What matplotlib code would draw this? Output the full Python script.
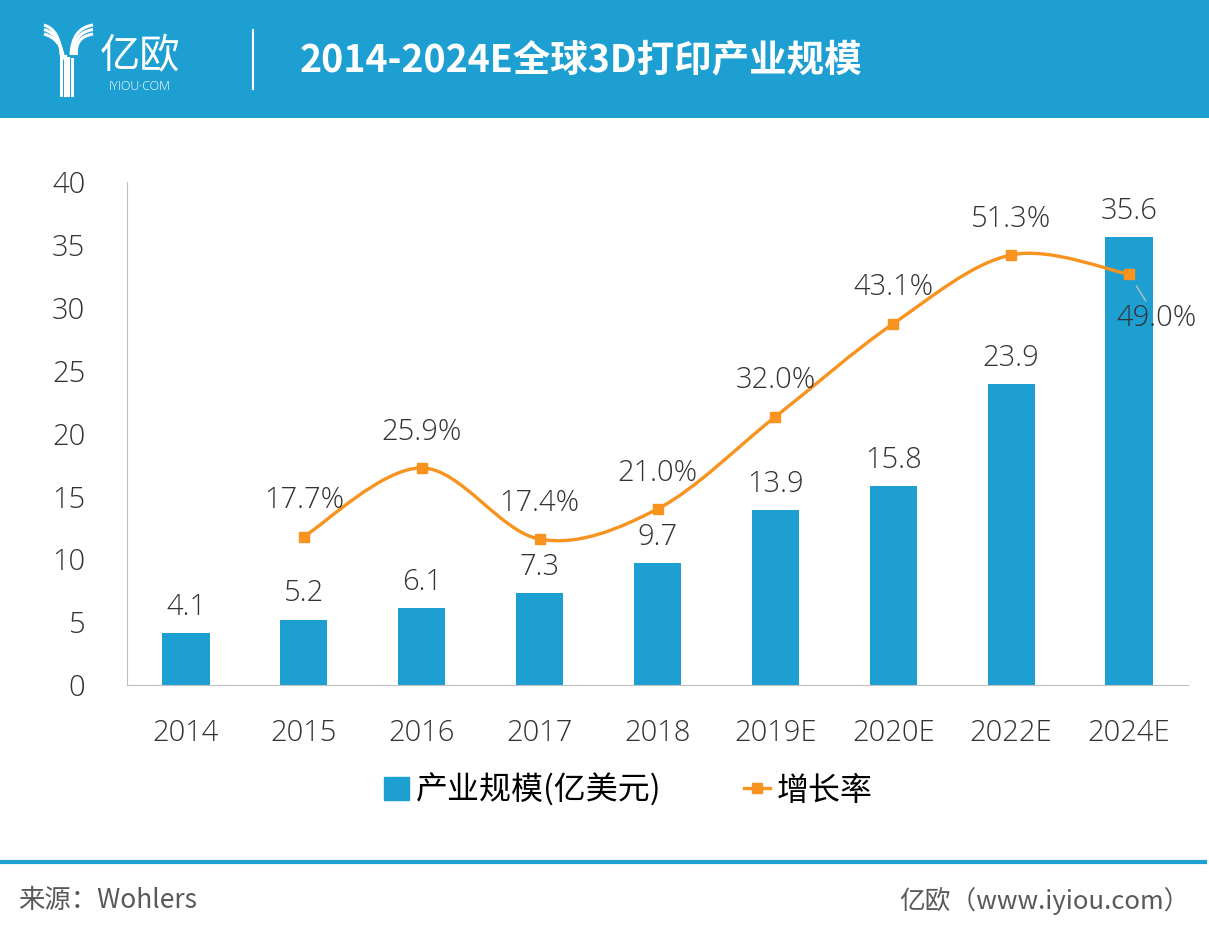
import matplotlib.pyplot as plt
from matplotlib.path import Path
from matplotlib.patches import PathPatch, Rectangle
from matplotlib.lines import Line2D

plt.rcParams['font.family'] = ['Open Sans', 'Noto Sans CJK SC', 'DejaVu Sans']
plt.rcParams['font.weight'] = 'light'

# 数据
years = ['2014', '2015', '2016', '2017', '2018', '2019E', '2020E', '2022E', '2024E']
scale = [4.1, 5.2, 6.1, 7.3, 9.7, 13.9, 15.8, 23.9, 35.6]          # 产业规模(亿美元)
growth = [None, 17.7, 25.9, 17.4, 21.0, 32.0, 43.1, 51.3, 49.0]    # 增长率 %

blue = '#1E9FD2'
orange = '#F7931E'
txt = '#333333'

W, H = 1209, 940
fig = plt.figure(figsize=(W / 100, H / 100), dpi=100)

# 背景层（像素坐标），画页眉、页脚
bg = fig.add_axes([0, 0, 1, 1])
bg.set_xlim(0, W)
bg.set_ylim(H, 0)
bg.axis('off')
bg.add_patch(Rectangle((0, 0), W, 118, color=blue, lw=0))
bg.plot([253, 253], [30, 89], color='white', lw=1.5)
bg.text(300, 60, '2014-2024E全球3D打印产业规模', color='white', fontsize=27,
        fontweight='bold', va='center', ha='left', family=['Noto Sans CJK SC'])

# logo：几条弧线组成的 Y
def curve(p0, p1, p2, lw=2.2):
    path = Path([p0, p1, p2], [Path.MOVETO, Path.CURVE3, Path.CURVE3])
    bg.add_patch(PathPatch(path, fill=False, ec='white', lw=lw))

for d in [0, 4.5, 9]:
    curve((44, 25 + d), (60 + d * 0.2, 30 + d), (61 + d * 0.3, 55 + d * 0.5))
for d in [0, 4.5, 9, 13.5]:
    xx = 61 + d * 0.8
    bg.plot([xx, xx], [55 + d * 0.3, 95], color='white', lw=2.2)
for d in [0, 4.5, 9]:
    curve((93, 25 + d), (72 + d * 0.3, 28 + d), (71 + d * 0.6, 55))
bg.text(140, 57, '亿欧', color='white', fontsize=29, ha='center', va='center',
        family=['Noto Sans CJK SC'])
bg.text(140, 86, 'IYIOU·COM', color='white', fontsize=9, ha='center', va='center')

# 页脚
bg.plot([0, 1205], [862, 862], color=blue, lw=3)
bg.text(18, 901, '来源：Wohlers', color='#595959', fontsize=19, va='center', ha='left',
        family=['Noto Sans CJK SC'])
bg.text(1190, 901, '亿欧（www.iyiou.com）', color='#595959', fontsize=18.5, va='center',
        ha='right', family=['Noto Sans CJK SC'])

# 主图
ax = fig.add_axes([127 / W, 1 - 685 / H, (1188 - 127) / W, (685 - 182) / H])
x = list(range(len(years)))
bars = ax.bar(x, scale, width=0.4, color=blue, zorder=2)
ax.set_xlim(-0.5, len(years) - 0.5)
ax.set_ylim(0, 40)
ax.set_yticks(range(0, 41, 5))
ax.set_xticks(x)
ax.set_xticklabels(years)
ax.tick_params(length=0, labelsize=21, colors=txt)
ax.tick_params(axis='y', pad=30)
ax.tick_params(axis='x', pad=24)
for s in ['top', 'right']:
    ax.spines[s].set_visible(False)
for s in ['left', 'bottom']:
    ax.spines[s].set_color('#BFBFBF')
for b, v in zip(bars, scale):
    ax.annotate(f'{v}', (b.get_x() + b.get_width() / 2, v), xytext=(0, 8),
                textcoords='offset points', ha='center', va='bottom', fontsize=21, color=txt)

# 增长率，副坐标轴
ax2 = ax.twinx()
ax2.set_ylim(0, 60)
ax2.axis('off')
gx = [i for i, g in zip(x, growth) if g is not None]
gy = [g for g in growth if g is not None]

# 平滑曲线（Catmull-Rom 转贝塞尔）
pts = list(zip(gx, gy))
verts = [pts[0]]
codes = [Path.MOVETO]
for i in range(len(pts) - 1):
    p0 = pts[i - 1] if i > 0 else pts[i]
    p1 = pts[i]
    p2 = pts[i + 1]
    p3 = pts[i + 2] if i + 2 < len(pts) else pts[i + 1]
    c1 = (p1[0] + (p2[0] - p0[0]) / 6, p1[1] + (p2[1] - p0[1]) / 6)
    c2 = (p2[0] - (p3[0] - p1[0]) / 6, p2[1] - (p3[1] - p1[1]) / 6)
    verts += [c1, c2, p2]
    codes += [Path.CURVE4] * 3
ax2.add_patch(PathPatch(Path(verts, codes), fill=False, ec=orange, lw=2.4, zorder=3))
ax2.plot(gx, gy, ls='none', marker='s', ms=7, color=orange, zorder=4)

for xi, g in zip(gx, gy):
    if xi == len(years) - 1:
        ax2.annotate(f'{g:.1f}%', (xi, g), xytext=(20, -32), textcoords='offset points',
                     ha='center', va='center', fontsize=21, color=txt,
                     arrowprops=dict(arrowstyle='-', color='#BFBFBF', lw=1,
                                     shrinkA=0, shrinkB=10))
    else:
        ax2.annotate(f'{g:.1f}%', (xi, g), xytext=(0, 26), textcoords='offset points',
                     ha='center', va='center', fontsize=21, color=txt)

# 图例
handles = [Rectangle((0, 0), 1, 1, color=blue),
           Line2D([0], [0], color=orange, lw=2.4, marker='s', ms=7)]
fig.legend(handles, ['产业规模(亿美元)', '增长率'], loc='center', bbox_to_anchor=(628 / W, 1 - 790 / H),
           ncol=2, frameon=False, handlelength=0.8, handletextpad=0.2,
           columnspacing=2.6, prop={'family': ['Noto Sans CJK SC'], 'size': 23, 'weight': 'light'})

fig.savefig('out.png', dpi=100)
